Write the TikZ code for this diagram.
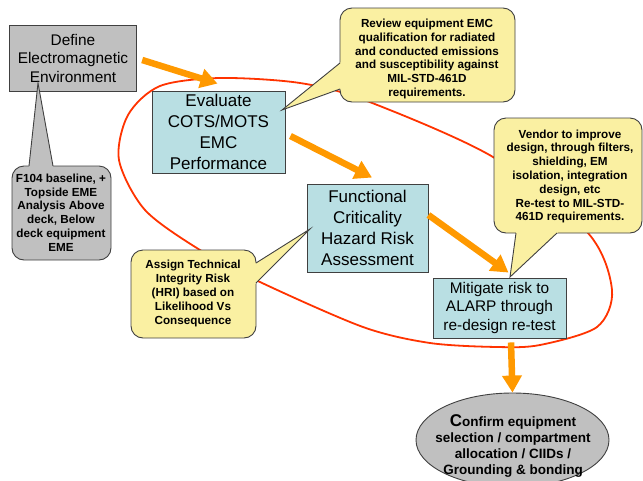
\documentclass[tikz,border=0pt]{standalone}
\usepackage{fontspec}
\setmainfont{Liberation Sans}
\usetikzlibrary{arrows.meta,calc,shapes.geometric}
\definecolor{boxgray}{HTML}{C0C0C0}
\definecolor{boxblue}{HTML}{B9DFE3}
\definecolor{callyel}{HTML}{FAF0A2}
\definecolor{edgec}{HTML}{404040}
\definecolor{arrowor}{HTML}{FF9900}
\definecolor{loopred}{HTML}{FF3300}
\newcommand\mycallout[6]{%
  \draw[callbg, fill=#1] (#2) rectangle (#3);
  \fill[#1] (#4) -- ($(#4)!1.04!(#5)$) -- ($(#4)!1.04!(#6)$) -- cycle;
  \draw[edgec, line width=0.9pt] (#5) -- (#4) -- (#6);
}
\begin{document}
\begin{tikzpicture}[x=1pt,y=-1pt,
  graybox/.style={draw=edgec, line width=0.9pt, fill=boxgray, inner sep=0pt, align=center},
  bluebox/.style={draw=edgec, line width=0.9pt, fill=boxblue, inner sep=0pt, align=center},
  bigtext/.style={font=\fontsize{17}{21}\selectfont},
  midtext/.style={font=\fontsize{15.4}{18.5}\selectfont},
  calltext/.style={font=\bfseries\fontsize{11.7}{13.8}\selectfont, align=center, inner sep=0pt},
  callbg/.style={draw=edgec, line width=0.9pt, rounded corners=12pt},
  oarrow/.style={draw=arrowor, line width=6.5pt, -{Triangle[length=17pt,width=19pt]}},
]
\useasboundingbox (0,0) rectangle (643,480);
\clip (0,0) rectangle (643,480);

% red loop
\draw[loopred, line width=1.8pt] plot[smooth cycle] coordinates {(220,78) (300,83) (367,101) (493,157) (588,233) (612,290) (597,327) (540,345) (497,347) (430,343) (363,327) (260,282) (200,250) (145,210) (119,160) (128,115) (160,86)};

% process boxes
\node[graybox, midtext, minimum width=127.5pt, minimum height=66pt] (def) at (73,58) {Define\\Electromagnetic\\Environment};
\node[bluebox, bigtext, minimum width=133pt, minimum height=82pt] (eva) at (218.5,132) {Evaluate\\COTS/MOTS\\EMC\\Performance};
\node[bluebox, bigtext, minimum width=121pt, minimum height=88pt] (fun) at (367.5,228) {Functional\\Criticality\\Hazard Risk\\Assessment};
\node[bluebox, midtext, minimum width=133pt, minimum height=60pt] (mit) at (499.5,308) {Mitigate risk to\\ALARP through\\re-design re-test};

% callouts
\mycallout{boxgray}{12,166}{111,260}{38,83}{29,166}{53,166}
\node[calltext] (f104) at (61,212.5) {F104 baseline, +\\Topside EME\\Analysis Above\\deck, Below\\deck equipment\\EME};

\mycallout{callyel}{340,8}{515,102}{282,110}{340,63}{340,89}
\node[calltext] (rev) at (427,59) {Review equipment EMC\\qualification for radiated\\and conducted emissions\\and susceptibility against\\MIL-STD-461D\\requirements.};

\mycallout{callyel}{494,118}{642,233}{510,277}{516,233}{557,233}
\node[calltext] (ven) at (570,176.5) {Vendor to improve\\design, through filters,\\shielding, EM\\isolation, integration\\design, etc\\Re-test to MIL-STD-\\461D requirements.};

\mycallout{callyel}{131,250}{256,338}{310,229}{256,263}{256,283}
\node[calltext] (asg) at (193,293.5) {Assign Technical\\Integrity Risk\\(HRI) based on\\Likelihood Vs\\Consequence};

% final ellipse
\node[draw=edgec, line width=0.9pt, fill=boxgray, ellipse, minimum width=193pt, minimum height=94pt, inner sep=0pt] (conf) at (512.5,440) {};
\node[calltext, font=\bfseries\fontsize{13.5}{16}\selectfont] (conftext) at (513,446) {{\fontsize{17}{16}\selectfont C}onfirm equipment\\selection / compartment\\allocation / CIIDs /\\Grounding \& bonding};

% orange flow arrows
\draw[oarrow] ($(def.east)+(5,2)$) -- ($(eva.north)+(-1,-7)$);
\draw[oarrow] ($(eva.east)+(5,4)$) -- ($(fun.north)+(4.5,-6)$);
\draw[oarrow] ($(fun.east)+(0,-13)$) -- ($(mit.north)+(9,-5)$);
\draw[oarrow] ($(mit.south)+(11.5,4)$) -- (conf.north);
\end{tikzpicture}
\end{document}
